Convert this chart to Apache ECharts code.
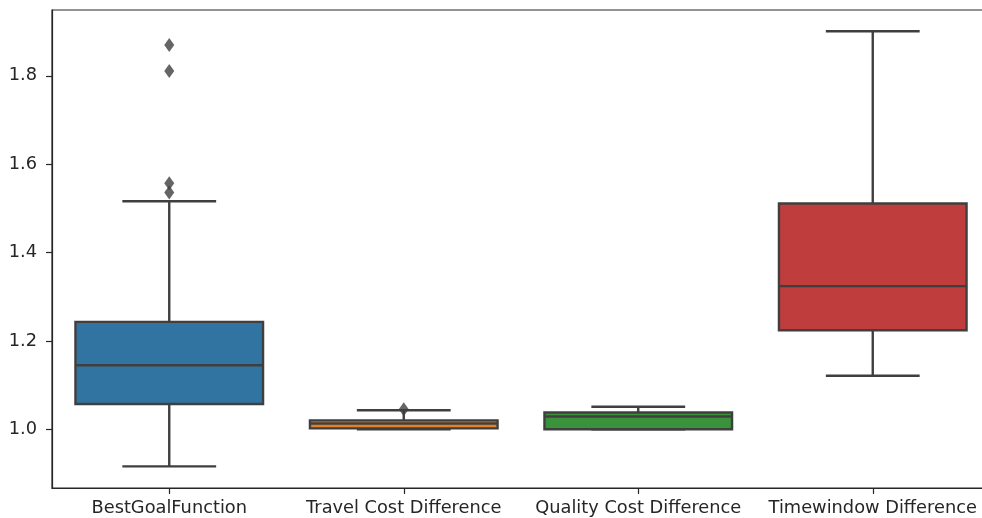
<!DOCTYPE html>
<html>
<head>
<meta charset="utf-8">
<script src="https://cdn.jsdelivr.net/npm/echarts@6/dist/echarts.min.js"></script>
<style>
  html, body { margin: 0; padding: 0; background: #ffffff; }
  #chart { width: 982px; height: 518px; }
</style>
</head>
<body>
<div id="chart"></div>
<script>
// Box statistics per category
const categories = ['BestGoalFunction', 'Travel Cost Difference', 'Quality Cost Difference', 'Timewindow Difference'];
const whiskerLow  = [0.916, 1.000, 1.000, 1.121];
const quartile1   = [1.057, 1.002, 1.000, 1.224];
const medians     = [1.145, 1.013, 1.029, 1.324];
const quartile3   = [1.243, 1.020, 1.038, 1.511];
const whiskerHigh = [1.516, 1.043, 1.051, 1.901];

// Outlying points: category index and value
const outlierCategory = [0, 0, 0, 0, 1];
const outlierValue    = [1.870, 1.811, 1.557, 1.536, 1.045];

// Y tick labels
const yTicks = [1.0, 1.2, 1.4, 1.6, 1.8];

const boxColors = ['#3274a1', '#e1812c', '#3a923a', '#c03d3e'];
const lineColor = '#3f3f3f';
const textColor = '#262626';

const boxData = categories.map((c, i) => [i, whiskerLow[i], quartile1[i], medians[i], quartile3[i], whiskerHigh[i]]);
const outlierData = outlierCategory.map((c, i) => [c, outlierValue[i]]);

function renderBox(params, api) {
  const idx = api.value(0);
  const band = api.size([1, 0])[0];
  const boxW = band * 0.8;
  const capW = boxW / 2;
  const x = api.coord([idx, 0])[0];
  const yLow = api.coord([idx, api.value(1)])[1];
  const yQ1 = api.coord([idx, api.value(2)])[1];
  const yMed = api.coord([idx, api.value(3)])[1];
  const yQ3 = api.coord([idx, api.value(4)])[1];
  const yHigh = api.coord([idx, api.value(5)])[1];
  const lineStyle = { stroke: lineColor, lineWidth: 2.4, fill: null };
  return {
    type: 'group',
    children: [
      { type: 'line', shape: { x1: x, y1: yQ1, x2: x, y2: yLow }, style: lineStyle },
      { type: 'line', shape: { x1: x, y1: yQ3, x2: x, y2: yHigh }, style: lineStyle },
      { type: 'line', shape: { x1: x - capW / 2, y1: yLow, x2: x + capW / 2, y2: yLow }, style: lineStyle },
      { type: 'line', shape: { x1: x - capW / 2, y1: yHigh, x2: x + capW / 2, y2: yHigh }, style: lineStyle },
      { type: 'rect', shape: { x: x - boxW / 2, y: yQ3, width: boxW, height: yQ1 - yQ3 },
        style: { fill: boxColors[idx], stroke: lineColor, lineWidth: 2.4 } },
      { type: 'line', shape: { x1: x - boxW / 2, y1: yMed, x2: x + boxW / 2, y2: yMed }, style: lineStyle }
    ]
  };
}

const chart = echarts.init(document.getElementById('chart'), null, { renderer: 'canvas' });
chart.setOption({
  animation: false,
  backgroundColor: '#ffffff',
  grid: {
    left: 52, top: 10, width: 938, bottom: 30,
    outerBoundsMode: 'none',
    containLabel: false,
    show: true, borderColor: '#262626', borderWidth: 1.2, backgroundColor: 'transparent'
  },
  xAxis: {
    type: 'category',
    data: categories,
    boundaryGap: true,
    axisLine: { show: true, lineStyle: { color: '#262626', width: 1.2 } },
    axisTick: { show: true, alignWithLabel: true, length: 6, lineStyle: { color: '#262626', width: 1.2 } },
    axisLabel: { color: textColor, fontFamily: 'DejaVu Sans', fontSize: 17.8, margin: 11, interval: 0, hideOverlap: false },
    splitLine: { show: false }
  },
  yAxis: {
    type: 'value',
    min: 0.867,
    max: 1.949,
    axisLine: { show: true, lineStyle: { color: '#262626', width: 1.2 } },
    axisTick: { show: true, length: 6, customValues: yTicks, lineStyle: { color: '#262626', width: 1.2 } },
    axisLabel: {
      color: textColor, fontFamily: 'DejaVu Sans', fontSize: 17.8, margin: 15,
      customValues: yTicks,
      formatter: v => Number(v).toFixed(1)
    },
    splitLine: { show: false }
  },
  series: [
    {
      type: 'custom',
      renderItem: renderBox,
      encode: { x: 0, y: [1, 2, 3, 4, 5] },
      data: boxData,
      z: 2
    },
    {
      type: 'scatter',
      data: outlierData,
      symbol: 'diamond',
      symbolSize: [10, 14],
      itemStyle: { color: lineColor },
      z: 3
    }
  ]
});
</script>
</body>
</html>
